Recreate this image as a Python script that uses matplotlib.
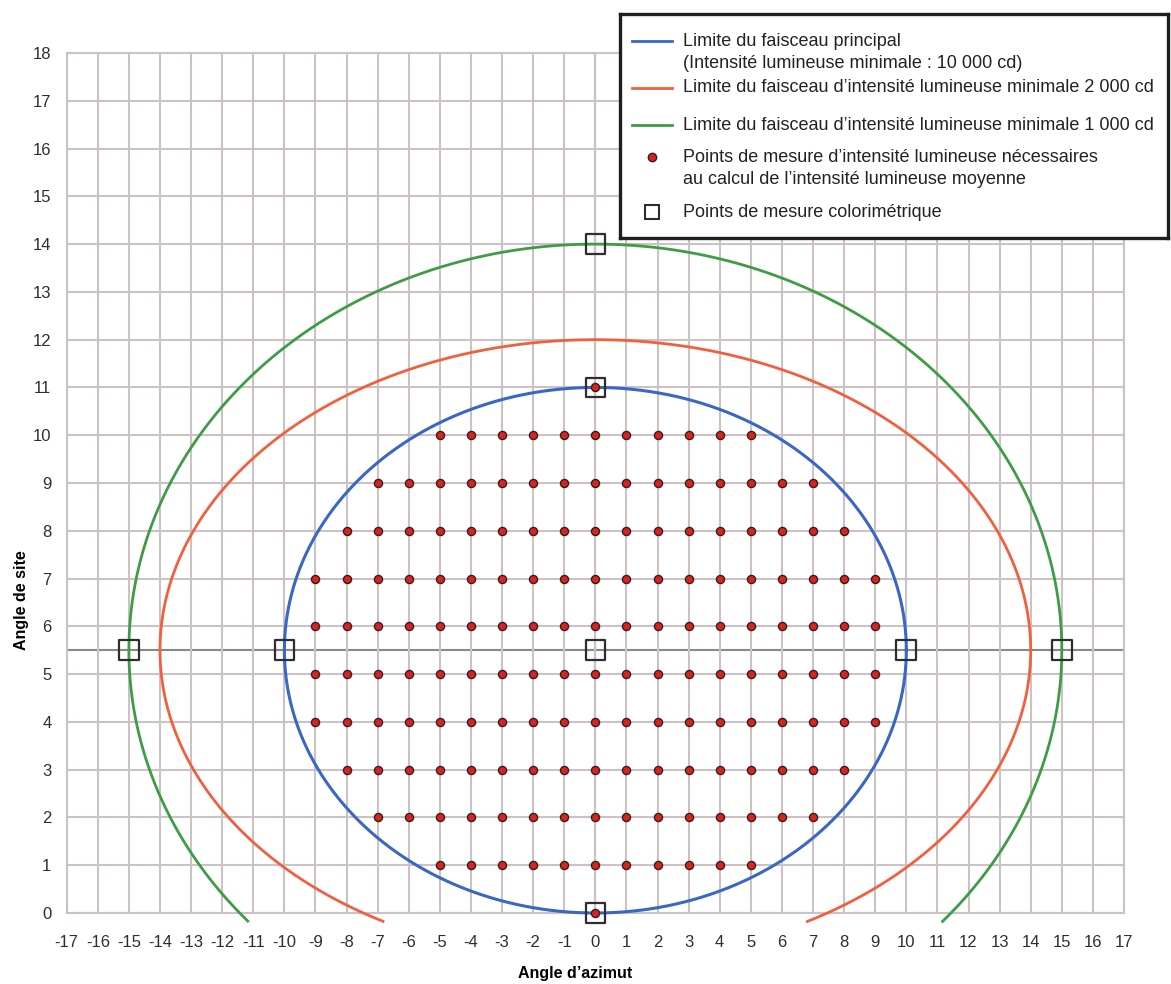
import numpy as np
import matplotlib
matplotlib.use("Agg")
import matplotlib.pyplot as plt
from matplotlib.lines import Line2D

plt.rcParams["font.family"] = ["Liberation Sans", "DejaVu Sans"]
plt.rcParams["axes.unicode_minus"] = False

# Axis ranges / ticks (degrees)
x_ticks = list(range(-17, 18))
y_ticks = list(range(0, 19))

# Beam limits: centre elevation, horizontal and vertical semi-axes
beam_center_y = 5.5
main_beam_a, main_beam_b = 10.0, 5.5        # 10 000 cd
beam_2000_a, beam_2000_b = 14.0, 6.5        # 2 000 cd
beam_1000_a, beam_1000_b = 15.0, 8.5        # 1 000 cd
outer_floor = -0.18

# Intensity measurement grid: rows of elevation and half-width in azimuth
row_levels = [1, 2, 3, 4, 5, 6, 7, 8, 9, 10]
row_half_widths = [5, 7, 8, 9, 9, 9, 9, 8, 7, 5]
extra_points_x = [0, 0]
extra_points_y = [0, 11]

# Colorimetric measurement points
color_x = [0, 0, 0, 0, -15, -10, 10, 15]
color_y = [0, 5.5, 11, 14, 5.5, 5.5, 5.5, 5.5]

legend_labels = [
    "Limite du faisceau principal\n(Intensité lumineuse minimale : 10 000 cd)",
    "Limite du faisceau d’intensité lumineuse minimale 2 000 cd",
    "Limite du faisceau d’intensité lumineuse minimale 1 000 cd",
    "Points de mesure d’intensité lumineuse nécessaires\nau calcul de l’intensité lumineuse moyenne",
    "Points de mesure colorimétrique",
]

BLUE = "#3a66c6"
RED = "#f25f3e"
GREEN = "#3e9c46"
GRID = "#cbc3c3"
AXISLINE = "#8c8686"
DOT_FACE = "#d8231f"
DOT_EDGE = "#3a1c1c"
SQ_EDGE = "#2e2e2e"

W, H = 1171, 984
X0, X1, Y0, Y1 = 66.7, 1124.0, 913.0, 53.0   # plot frame in pixels
fig = plt.figure(figsize=(W / 100, H / 100), dpi=100)
ax = fig.add_axes([X0 / W, 1 - Y0 / H, (X1 - X0) / W, (Y0 - Y1) / H])

ax.set_xlim(-17, 17)
ax.set_ylim(0, 18)
ax.set_xticks(x_ticks)
ax.set_yticks(y_ticks)
ax.grid(True, color=GRID, linewidth=1.5, zorder=0)
for sp in ax.spines.values():
    sp.set_color(GRID)
    sp.set_linewidth(1.5)
ax.tick_params(length=0, labelsize=12, labelcolor="#2e2e2e")
ax.tick_params(axis="x", pad=16)
ax.tick_params(axis="y", pad=11)

# Reference axes through the beam centre
ax.axhline(beam_center_y, color=AXISLINE, linewidth=1.5, zorder=1)
ax.axvline(0, color=AXISLINE, linewidth=1.5, zorder=1)


def ellipse(a, b, floor=None):
    t = np.linspace(0, 2 * np.pi, 3000)
    x = a * np.cos(t)
    y = beam_center_y + b * np.sin(t)
    if floor is not None:
        y = np.where(y >= floor, y, np.nan)
        # start the curve at its lowest point so the gap sits at the bottom
        k = np.argmin(np.abs(t - 1.5 * np.pi))
        x = np.roll(x, -k)
        y = np.roll(y, -k)
    return x, y


x, y = ellipse(beam_1000_a, beam_1000_b, outer_floor)
ax.plot(x, y, color=GREEN, linewidth=2.0, clip_on=False, zorder=3)
x, y = ellipse(beam_2000_a, beam_2000_b, outer_floor)
ax.plot(x, y, color=RED, linewidth=2.0, clip_on=False, zorder=3)
x, y = ellipse(main_beam_a, main_beam_b)
ax.plot(x, y, color=BLUE, linewidth=2.2, clip_on=False, zorder=3)

# Measurement points
px, py = [], []
for lvl, hw in zip(row_levels, row_half_widths):
    for xv in range(-hw, hw + 1):
        px.append(xv)
        py.append(lvl)
px += extra_points_x
py += extra_points_y
ax.scatter(px, py, s=34, facecolor=DOT_FACE, edgecolor=DOT_EDGE, linewidth=1.0,
           zorder=5, clip_on=False)

ax.scatter(color_x, color_y, marker="s", s=200, facecolor="none", edgecolor=SQ_EDGE,
           linewidth=1.6, zorder=6, clip_on=False)

ax.set_xlabel("Angle d’azimut", fontsize=11.5, fontweight="bold")
ax.set_ylabel("Angle de site", fontsize=11.5, fontweight="bold")
ax.xaxis.set_label_coords((575 - X0) / (X1 - X0), (Y0 - 966) / (Y0 - Y1))
ax.yaxis.set_label_coords((29 - X0) / (X1 - X0), (Y0 - 600) / (Y0 - Y1))

# Legend box (pixel-based inset)
L, T, R, B = 620, 14, 1168, 238
lax = fig.add_axes([L / W, 1 - B / H, (R - L) / W, (B - T) / H])
lax.set_xlim(0, R - L)
lax.set_ylim(B - T, 0)
lax.set_xticks([])
lax.set_yticks([])
lax.set_facecolor("white")
for sp in lax.spines.values():
    sp.set_color("#1e1e1e")
    sp.set_linewidth(2.4)
lax.set_zorder(10)

text_x = 63
line_gap = 22
rows_y = [27, 74, 111, 143, 198]
for yv, col in zip(rows_y[:3], [BLUE, RED, GREEN]):
    lax.add_line(Line2D([12, 52], [yv, yv], color=col, linewidth=2.0))
lax.plot([32], [rows_y[3]], "o", ms=6, mfc=DOT_FACE, mec=DOT_EDGE, mew=1.0)
lax.plot([32], [rows_y[4]], "s", ms=10, mfc="none", mec=SQ_EDGE, mew=1.5)
for yv, lab in zip(rows_y, legend_labels):
    for i, part in enumerate(lab.split("\n")):
        lax.text(text_x, yv + i * line_gap, part, fontsize=13, color="#222222",
                 va="center", ha="left")

fig.savefig("out.png", dpi=100, facecolor="white")
